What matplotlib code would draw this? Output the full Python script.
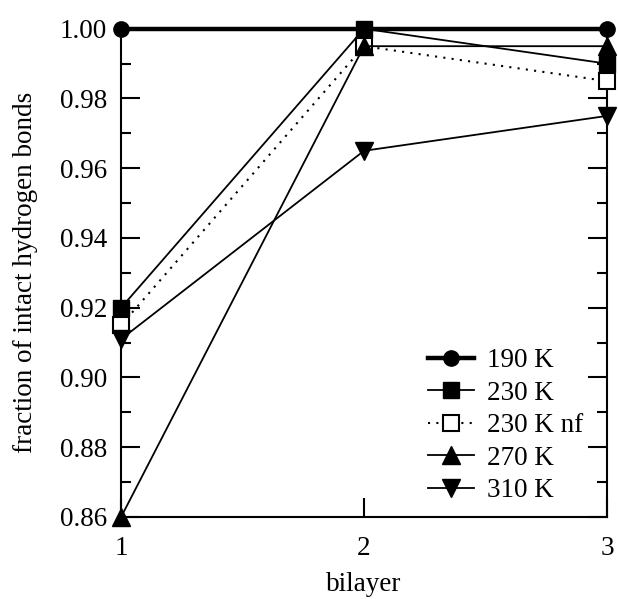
import matplotlib
matplotlib.use('Agg')
import matplotlib.pyplot as plt
from matplotlib.ticker import MultipleLocator, FormatStrFormatter

plt.rcParams['font.family'] = ['Liberation Serif', 'DejaVu Serif']

bilayer = [1, 2, 3]
t190 = [1.000, 1.000, 1.000]
t230 = [0.920, 1.000, 0.990]
t230nf = [0.915, 0.995, 0.985]
t270 = [0.860, 0.995, 0.995]
t310 = [0.911, 0.965, 0.975]

fs = 19.5

fig = plt.figure(figsize=(6.18, 5.99), dpi=100)
ax = fig.add_axes([0.196, 0.137, 0.786, 0.815])

k = dict(color='black', clip_on=False, zorder=3)
ax.plot(bilayer, t190, '-o', lw=3.2, ms=11, label='190 K', **k)
ax.plot(bilayer, t230, '-s', lw=1.3, ms=11, label='230 K', **k)
ax.plot(bilayer, t230nf, 's', ls=(0, (1, 3)), lw=1.5, ms=11,
        mfc='white', mew=1.5, label='230 K nf', **k)
ax.plot(bilayer, t270, '-^', lw=1.3, ms=13, label='270 K', **k)
ax.plot(bilayer, t310, '-v', lw=1.3, ms=13, label='310 K', **k)

ax.set_xlim(1, 3)
ax.set_ylim(0.86, 1.00)
ax.xaxis.set_major_locator(MultipleLocator(1))
ax.yaxis.set_major_locator(MultipleLocator(0.02))
ax.yaxis.set_minor_locator(MultipleLocator(0.01))
ax.yaxis.set_major_formatter(FormatStrFormatter('%.2f'))

for s in ax.spines.values():
    s.set_linewidth(1.5)
ax.tick_params(axis='both', which='major', direction='in', length=14,
               width=1.5, labelsize=fs, right=True, top=False)
ax.tick_params(axis='y', which='minor', direction='in', length=7,
               width=1.5, right=True)
ax.tick_params(axis='x', pad=14)
ax.tick_params(axis='y', pad=10)

ax.set_xlabel('bilayer', fontsize=fs, labelpad=8)
ax.set_ylabel('fraction of intact hydrogen bonds', fontsize=fs, labelpad=16)

ax.legend(loc='lower right', frameon=False, fontsize=fs, handlelength=1.7,
          handletextpad=0.5, labelspacing=0.28,
          bbox_to_anchor=(0.98, 0.0), borderaxespad=0.1)

fig.savefig('out.png', dpi=100)
